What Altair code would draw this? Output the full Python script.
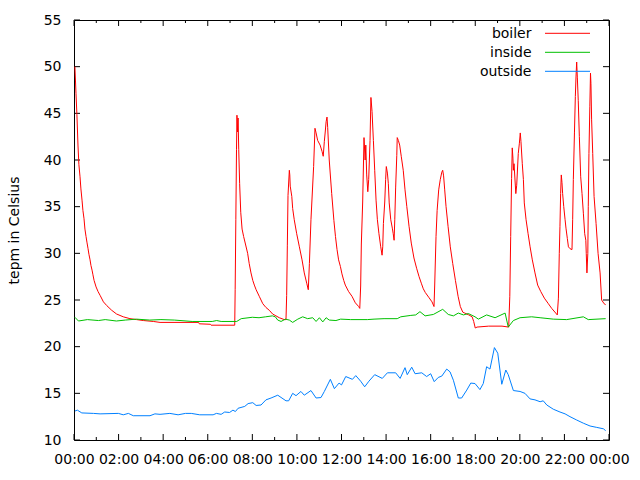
import altair as alt
import pandas as pd

# ---------------- data (hours since midnight, temperature in Celsius) ----------------
boiler_h = [0.04, 0.09, 0.13, 0.18, 0.22, 0.27, 0.31, 0.36, 0.40, 0.45, 0.49, 0.54, 0.58, 0.63, 0.67,
            0.72, 0.76, 0.81, 0.85, 0.90, 0.99, 1.08, 1.17, 1.32, 1.47, 1.69, 1.91, 2.21, 2.51, 2.81,
            3.11, 3.56, 3.86, 5.59, 5.62, 6.12, 6.15, 7.21, 7.23, 7.26, 7.29, 7.31, 7.34, 7.36, 7.39,
            7.43, 7.48, 7.54, 7.61, 7.69, 7.79, 7.86, 7.94, 8.02, 8.09, 8.17, 8.31, 8.47, 8.61, 8.76,
            8.91, 9.06, 9.21, 9.43, 9.51, 9.54, 9.57, 9.60, 9.66, 9.68, 9.70, 9.77, 9.81, 9.88, 9.99,
            10.11, 10.23, 10.33, 10.44, 10.51, 10.56, 10.63, 10.75, 10.81, 10.86, 10.93, 11.04, 11.13,
            11.18, 11.23, 11.27, 11.31, 11.35, 11.38, 11.45, 11.56, 11.66, 11.73, 11.80, 11.87, 11.95,
            12.02, 12.10, 12.17, 12.32, 12.47, 12.62, 12.77, 12.82, 12.86, 12.89, 12.95, 13.01, 13.06,
            13.09, 13.13, 13.18, 13.22, 13.28, 13.32, 13.37, 13.43, 13.49, 13.55, 13.61, 13.68, 13.76,
            13.82, 13.85, 13.88, 13.94, 13.98, 14.01, 14.06, 14.10, 14.14, 14.21, 14.28, 14.32, 14.36,
            14.39, 14.43, 14.48, 14.50, 14.55, 14.61, 14.68, 14.77, 14.85, 14.93, 15.03, 15.13, 15.25,
            15.37, 15.48, 15.58, 15.67, 15.76, 15.91, 16.06, 16.15, 16.18, 16.24, 16.29, 16.36, 16.43,
            16.50, 16.54, 16.58, 16.63, 16.69, 16.78, 16.88, 16.99, 17.11, 17.23, 17.33, 17.44, 17.53,
            17.71, 17.86, 17.93, 18.00, 18.08, 18.60, 19.20, 19.50, 19.55, 19.59, 19.63, 19.66, 19.69,
            19.71, 19.74, 19.82, 19.86, 19.93, 19.98, 20.02, 20.05, 20.11, 20.16, 20.20, 20.28, 20.37,
            20.46, 20.56, 20.68, 20.80, 20.94, 21.10, 21.28, 21.43, 21.61, 21.68, 21.73, 21.77, 21.80,
            21.83, 21.86, 21.89, 21.92, 21.97, 22.03, 22.07, 22.13, 22.18, 22.25, 22.34, 22.37, 22.40,
            22.45, 22.49, 22.52, 22.55, 22.58, 22.62, 22.67, 22.73, 22.79, 22.85, 22.91, 22.96, 22.98,
            23.01, 23.05, 23.07, 23.10, 23.14, 23.17, 23.19, 23.22, 23.27, 23.33, 23.42, 23.51, 23.60,
            23.67, 23.78, 23.85]
boiler_v = [50.0, 47.1, 44.9, 41.5, 39.5, 38.2, 36.9, 35.7, 34.6, 33.7, 32.6, 31.8, 31.2, 30.5, 29.9,
            29.3, 28.7, 28.2, 27.7, 27.1, 26.4, 25.9, 25.5, 24.8, 24.4, 23.9, 23.5, 23.2, 23.0, 22.9,
            22.8, 22.7, 22.6, 22.6, 22.45, 22.4, 22.3, 22.3, 26.1, 33.6, 41.1, 44.8, 43.0, 44.5, 41.1,
            37.5, 34.4, 32.6, 31.8, 31.0, 30.0, 28.9, 27.9, 27.1, 26.6, 26.1, 25.4, 24.6, 24.2, 23.9,
            23.5, 23.3, 23.1, 22.9, 22.9, 25.5, 30.8, 36.2, 38.9, 38.4, 37.2, 36.1, 34.8, 33.6, 32.1,
            30.7, 29.3, 27.9, 26.8, 26.1, 28.9, 33.6, 39.3, 43.4, 42.9, 42.1, 41.6, 40.9,
            40.4, 42.0, 43.0, 44.1, 44.6, 43.5, 40.0, 36.4, 33.5, 31.8, 30.4, 29.3, 28.6,
            27.8, 27.1, 26.6, 25.9, 25.4, 24.7, 24.3, 24.1, 26.5, 31.0, 35.5, 42.4, 40.0,
            41.6, 38.4, 36.6, 37.9, 42.1, 46.7, 45.2, 42.1, 38.9, 35.7, 33.6, 32.1, 30.7,
            29.8, 30.7, 33.2, 35.5, 37.9, 39.3, 38.6, 37.5, 35.4, 33.6, 32.7, 32.1, 31.4,
            33.6, 37.1, 40.5, 42.4, 42.1, 41.6, 40.4, 38.9, 36.8, 35.0, 32.9, 31.1, 29.5,
            28.4, 27.5, 26.8, 26.2, 25.8, 25.3, 24.8, 24.3, 26.5, 31.8, 34.6, 36.8, 37.9,
            38.7, 38.9, 38.3, 36.8, 35.0, 32.9, 30.7, 28.9, 27.1, 25.4, 24.3, 23.7, 23.6,
            23.4, 23.2, 22.7, 22.0, 22.1, 22.2, 22.2, 22.1, 25.4, 31.8, 38.0, 41.3, 40.2,
            38.9, 39.6, 36.4, 37.3, 40.7, 41.8, 42.9, 42.0, 39.6, 37.9, 35.4, 33.6, 32.1,
            30.7, 29.3, 27.9, 26.6, 25.9, 25.2, 24.6, 24.1, 23.6, 23.4, 25.2, 30.0, 32.9,
            36.4, 38.4, 37.6, 36.4, 35.0, 33.6, 32.7, 31.6, 30.7, 30.5, 30.4, 33.6, 37.9,
            42.9, 46.8, 48.9, 50.5, 48.8, 46.4, 42.5, 38.2, 36.4, 34.3, 32.1, 31.4, 30.0,
            27.9, 30.0, 35.0, 40.7, 45.7, 49.3, 48.2, 44.3, 40.7, 36.1, 33.2, 30.0, 27.9,
            25.0, 24.6, 24.5]

inside_h = [0.04, 0.2, 0.6, 1.1, 1.4, 1.9, 2.3, 2.8, 3.4, 3.9, 4.5, 5.3, 6.2, 6.4, 6.6, 7.3, 7.5, 8.0,
            8.3, 8.6, 8.9, 9.03, 9.14, 9.29, 9.48, 9.66, 9.81, 10.04, 10.26, 10.48, 10.71, 10.86, 11.01,
            11.16, 11.31, 11.45, 11.75, 11.96, 12.41, 13.16, 13.46, 13.91, 14.50, 14.66, 15.11, 15.33,
            15.52, 15.75, 16.12, 16.54, 16.79, 17.02, 17.24, 17.47, 17.69, 17.99, 18.14, 18.51, 18.89,
            19.34, 19.48, 19.71, 20.01, 20.53, 20.91, 21.50, 22.10, 22.85, 23.07, 23.85]
inside_v = [23.15, 22.75, 22.9, 22.8, 22.9, 22.75, 22.85, 22.95, 22.85, 22.9, 22.85, 22.7, 22.7, 22.8,
            22.7, 22.7, 23.0, 23.15, 23.1, 23.2, 23.3, 23.2, 22.85, 22.7, 22.95, 22.85, 22.6, 22.95,
            23.2, 23.0, 23.1, 22.7, 23.1, 22.65, 23.1, 22.85, 22.8, 22.95, 22.9, 22.9, 22.95, 23.0,
            23.0, 23.2, 23.35, 23.4, 23.75, 23.3, 23.45, 24.0, 23.45, 23.3, 23.6, 23.4, 23.55, 23.2,
            22.95, 23.4, 23.1, 23.6, 22.1, 22.8, 23.1, 23.2, 23.1, 22.95, 22.9, 23.2, 22.9, 23.0]

outside_h = [0.04, 0.15, 0.35, 0.87, 1.17, 1.99, 2.21, 2.44, 2.66, 3.41, 3.63, 3.86, 4.3, 4.67, 5.0,
             5.26, 5.64, 6.24, 6.39, 6.6, 6.76, 6.98, 7.13, 7.24, 7.36, 7.66, 7.81, 8.02, 8.17, 8.39,
             8.61, 8.84, 9.14, 9.51, 9.63, 9.81, 9.96, 10.18, 10.33, 10.63, 10.86, 11.08, 11.23, 11.50,
             11.68, 11.89, 12.0, 12.19, 12.49, 12.64, 12.86, 13.04, 13.23, 13.49, 13.83, 14.06, 14.43,
             14.63, 14.85, 14.95, 15.15, 15.30, 15.60, 15.82, 16.0, 16.16, 16.34, 16.50, 16.72, 16.87,
             17.02, 17.24, 17.39, 17.62, 17.80, 17.99, 18.21, 18.36, 18.51, 18.66, 18.86, 19.01, 19.19,
             19.37, 19.48, 19.71, 20.01, 20.23, 20.46, 20.68, 20.91, 21.05, 21.21, 21.50, 21.80, 22.03,
             22.25, 22.55, 22.85, 23.15, 23.45, 23.75, 23.85]
outside_v = [13.1, 13.2, 12.9, 12.85, 12.8, 12.85, 12.7, 12.85, 12.6, 12.6, 12.8, 12.75, 12.85, 12.7,
             12.85, 12.85, 12.7, 12.7, 12.85, 12.75, 13.0, 12.95, 13.2, 13.05, 13.4, 13.6, 13.9, 14.0,
             13.7, 13.75, 14.3, 14.5, 14.8, 14.2, 14.2, 15.0, 14.75, 15.2, 14.8, 15.3, 14.5, 14.55,
             15.2, 16.5, 15.5, 16.1, 15.9, 16.8, 16.5, 16.9, 16.3, 15.7, 16.3, 17.0, 16.6, 17.2, 17.2,
             16.6, 17.75, 17.0, 17.8, 17.1, 17.2, 16.8, 17.1, 16.25, 16.7, 16.85, 17.6, 17.3, 16.4,
             14.5, 14.5, 15.35, 16.1, 16.05, 15.4, 16.05, 17.85, 17.6, 19.9, 19.3, 15.97, 17.5, 17.0,
             15.3, 15.2, 15.0, 14.4, 14.3, 14.1, 14.2, 13.75, 13.3, 13.0, 12.8, 12.5, 12.14, 11.8,
             11.5, 11.35, 11.2, 11.0]

series_names = ["boiler", "inside", "outside"]
series_colors = ["#ff0000", "#00c000", "#0080ff"]

x_major = list(range(0, 25, 2))
x_minor = list(range(1, 24, 2))
y_major = list(range(10, 56, 5))

# ---------------- chart ----------------
W, H = 535, 420
FONT = "DejaVu Sans"
FS = 14
MAJ, MIN = 6, 3

x_scale = alt.Scale(domain=[0, 24], nice=False, zero=False)
y_scale = alt.Scale(domain=[10, 55], nice=False, zero=False)

x_axis = alt.Axis(values=x_major,
                  labelExpr="(datum.value % 24 < 10 ? '0' : '') + (datum.value % 24) + ':00'",
                  labelPadding=12, labelFlush=False, labelOverlap=False, title=None,
                  ticks=False, tickSize=0, domain=False, grid=False)
y_axis = alt.Axis(values=y_major, labelPadding=13, labelFlush=False, labelOverlap=False,
                  ticks=False, tickSize=0, domain=False, grid=False,
                  title="tepm in Celsius", titleX=-60, titleY=H / 2, titleAngle=270,
                  titleAlign="center", titleBaseline="middle", titleFontWeight="normal",
                  titleFont=FONT, titleFontSize=FS, titleColor="black")

X = lambda f: alt.X(f, scale=x_scale, axis=x_axis)
Y = lambda f: alt.Y(f, scale=y_scale, axis=y_axis)

layers = []

# tick marks (inward, on all four sides)
xmaj = pd.DataFrame({"t": x_major})
xmin = pd.DataFrame({"t": x_minor})
ymaj = pd.DataFrame({"t": y_major})
rule = dict(color="black", strokeWidth=1)
layers.append(alt.Chart(xmaj).mark_rule(**rule).encode(x=X("t:Q"), y=alt.value(H), y2=alt.value(H - MAJ)))
layers.append(alt.Chart(xmin).mark_rule(**rule).encode(x=X("t:Q"), y=alt.value(H), y2=alt.value(H - MIN)))
layers.append(alt.Chart(xmaj).mark_rule(**rule).encode(x=X("t:Q"), y=alt.value(0), y2=alt.value(MAJ)))
layers.append(alt.Chart(xmin).mark_rule(**rule).encode(x=X("t:Q"), y=alt.value(0), y2=alt.value(MIN)))
layers.append(alt.Chart(ymaj).mark_rule(**rule).encode(y=Y("t:Q"), x=alt.value(0), x2=alt.value(MAJ)))
layers.append(alt.Chart(ymaj).mark_rule(**rule).encode(y=Y("t:Q"), x=alt.value(W), x2=alt.value(W - MAJ)))

# data lines
for (h, v), col in zip([(boiler_h, boiler_v), (inside_h, inside_v), (outside_h, outside_v)], series_colors):
    df = pd.DataFrame({"h": h, "v": v})
    layers.append(alt.Chart(df).mark_line(color=col, strokeWidth=1, clip=True)
                  .encode(x=X("h:Q"), y=Y("v:Q")))

# gnuplot-style key (label left, sample right)
for i, (name, col) in enumerate(zip(series_names, series_colors)):
    base_y = 18.3 + 19 * i
    layers.append(alt.Chart(pd.DataFrame({"n": [name]})).mark_text(
        align="right", baseline="alphabetic", font=FONT, fontSize=FS, color="black")
        .encode(x=alt.value(457.5), y=alt.value(base_y), text="n:N"))
    layers.append(alt.Chart(pd.DataFrame({"n": [name]})).mark_rule(color=col, strokeWidth=1)
                  .encode(x=alt.value(471), x2=alt.value(516), y=alt.value(base_y - 5)))

chart = alt.layer(*layers).properties(
    width=W, height=H,
    autosize=alt.AutoSizeParams(type="none"),
    padding={"left": 74, "top": 20, "right": 31, "bottom": 40},
    background="white",
).configure_view(stroke="black", strokeWidth=1).configure_axis(
    labelFont=FONT, labelFontSize=FS, labelColor="black"
)

chart.save("out.html", embed_options={"renderer": "svg", "actions": False})
